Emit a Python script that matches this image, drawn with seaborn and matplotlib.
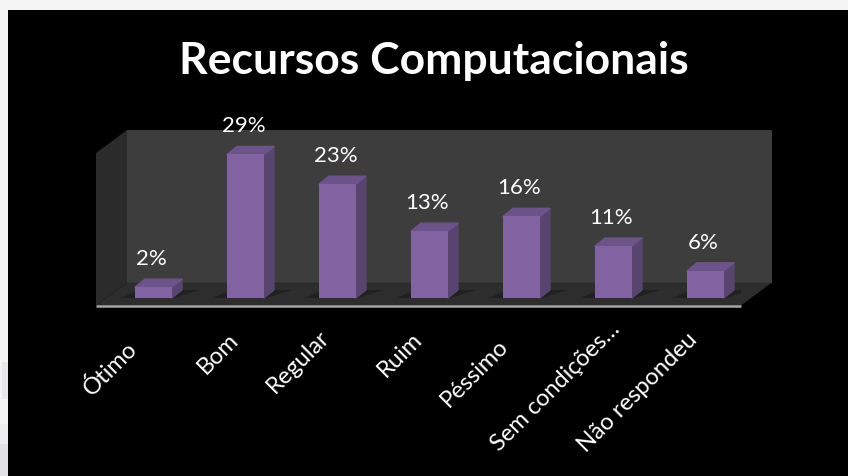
import matplotlib
matplotlib.use('Agg')
import pandas as pd
import seaborn as sns
import matplotlib.pyplot as plt
from matplotlib.patches import Polygon, Rectangle
from matplotlib.transforms import Affine2D

categories = ['Ótimo', 'Bom', 'Regular', 'Ruim', 'Péssimo', 'Sem condições…', 'Não respondeu']
# bar heights, the labels are the rounded percentages
values = [2.2, 29, 23, 13.5, 16.5, 10.5, 5.5]
value_labels = ['2%', '29%', '23%', '13%', '16%', '11%', '6%']

W, H = 848, 477
PX_X = 92.0   # pixels per category
PX_Y = 4.95   # pixels per percent
DX = 10 / PX_X
DY = 8 / PX_Y
BAR_W = 37 / PX_X

FRONT = '#8163a1'
SIDE = '#59446f'
TOP = '#6c5389'

sns.set_theme(style='white')
plt.rcParams['font.family'] = ['Lato', 'DejaVu Sans']

fig = plt.figure(figsize=(W / 100, H / 100), dpi=100, facecolor='#f6f5f6')


def px_rect(x, y, w, h, color):
    # rectangle behind the axes, given in image pixels
    fig.add_artist(Rectangle((x / W, 1 - (y + h) / H), w / W, h / H, transform=fig.transFigure,
                             color=color, lw=0, zorder=-5))


# faint marks of the slide background on the left edge
px_rect(0, 445, 8, 32, '#e1e1e6')
px_rect(0, 425, 8, 20, '#eeedf0')
px_rect(2, 363, 6, 37, '#e8e7e9')
px_rect(8, 11, W - 8, H - 11, 'black')

# axes box = front edge of the floor, up to the top of the back wall
left, right, bottom, top = 96, 741, 306.5, 131
ax = fig.add_axes([left / W, 1 - bottom / H, (right - left) / W, (bottom - top) / H])
ax.patch.set_alpha(0)
x0 = -(153.5 - left) / PX_X
x1 = x0 + (right - left) / PX_X
y0 = -(bottom - 299) / PX_Y
y1 = (299 - top) / PX_Y

wall_dx = 31 / PX_X
wall_dy = 23 / PX_Y

# walls and floor
ax.add_patch(Polygon([(x0 + wall_dx, y0 + wall_dy), (x1 + wall_dx, y0 + wall_dy), (x1 + wall_dx, y1), (x0 + wall_dx, y1)],
                     closed=True, color='#3d3d3d', lw=0, clip_on=False, zorder=0))
ax.add_patch(Polygon([(x0, y0), (x0 + wall_dx, y0 + wall_dy), (x0 + wall_dx, y1), (x0, y1 - wall_dy)],
                     closed=True, color='#2b2b2b', lw=0, clip_on=False, zorder=0))
ax.add_patch(Polygon([(x0, y0), (x1, y0), (x1 + wall_dx, y0 + wall_dy), (x0 + wall_dx, y0 + wall_dy)],
                     closed=True, color='#2d2d2d', lw=0, clip_on=False, zorder=0))

df = pd.DataFrame({'categoria': categories, 'valor': values})
sns.barplot(data=df, x='categoria', y='valor', color=FRONT, saturation=1, width=BAR_W, ax=ax, zorder=3,
            edgecolor=FRONT, linewidth=0)
ax.set_xlim(x0, x1)
ax.set_ylim(y0, y1)

# depth faces of each bar, plus shadow on floor
for i, v in enumerate(values):
    l = i - BAR_W / 2
    r = i + BAR_W / 2
    ax.add_patch(Polygon([(l - 14 / PX_X, 0), (r + 2 / PX_X, 0), (r + DX + 18 / PX_X, DY), (l + 4 / PX_X, DY)],
                         closed=True, color='#212121', lw=0, zorder=1))
    ax.add_patch(Polygon([(r, 0), (r + DX, DY), (r + DX, v + DY), (r, v)],
                         closed=True, facecolor=SIDE, edgecolor=SIDE, lw=1, joinstyle='round', zorder=2))
    ax.add_patch(Polygon([(l, v), (r, v), (r + DX, v + DY), (l + DX, v + DY)],
                         closed=True, facecolor=TOP, edgecolor=TOP, lw=1, joinstyle='round', zorder=2))
    ax.annotate(value_labels[i], (i, v), xytext=(-2, 29), textcoords='offset pixels', ha='center', va='center',
                color='white', fontsize=16, zorder=5, annotation_clip=False)

# front floor line
ax.plot([x0, x1], [y0, y0], color='#a6a6a6', lw=1.8, clip_on=False, zorder=4, solid_capstyle='butt')

ax.set_xlabel('')
ax.set_ylabel('')
ax.set_yticks([])
ax.set_xticks(range(len(categories)))
ax.set_xticklabels(categories, rotation=45, ha='right', rotation_mode='anchor', color='white', fontsize=17)
ax.tick_params(axis='x', length=0, pad=14)
sns.despine(ax=ax, left=True, bottom=True)

# the labels are not evenly placed in the original
label_nudge = [(-28, -12), (-18, -3), (-19, -1), (-18, -3), (-24, -9), (-5, 8), (-19, -3)]
for lbl, (nx, ny) in zip(ax.get_xticklabels(), label_nudge):
    lbl.set_transform(lbl.get_transform() + Affine2D().translate(nx, ny))

fig.text(434 / W, 1 - 61 / H, 'Recursos Computacionais', color='white', fontsize=32, fontweight='bold',
         ha='center', va='center')

fig.savefig('out.png', dpi=100, facecolor=fig.get_facecolor())
